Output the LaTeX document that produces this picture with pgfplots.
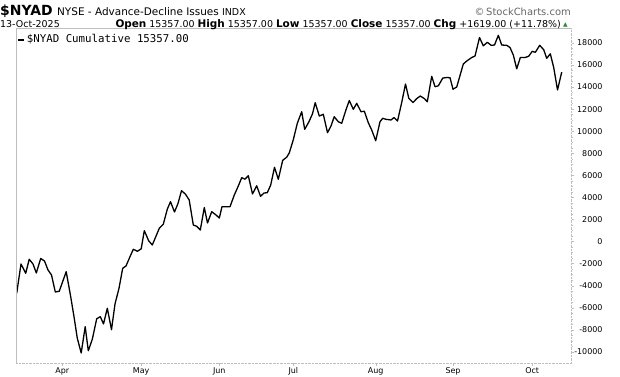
\documentclass[border=0pt]{standalone}
\usepackage{pgfplots}
\pgfplotsset{compat=1.18}
\usepackage{fontspec}
\setmainfont{DejaVu Sans}
\newfontfamily\monof{DejaVu Sans Mono}
\definecolor{framegray}{RGB}{190,190,190}
\definecolor{upgreen}{RGB}{40,140,40}
\begin{document}
\begin{tikzpicture}[x=1bp,y=1bp]
\path[use as bounding box] (0,0) rectangle (620,376);
\begin{axis}[
  at={(15.7bp,12.7bp)}, anchor=south west,
  width=555.8bp, height=334.8bp, scale only axis,
  xmin=15.7, xmax=571.5, ymin=-11030, ymax=19310,
  axis line style={draw=none},
  xtick={62.3,141.2,219.3,293.3,375.7,453,532.2},
  xticklabels={Apr,May,Jun,Jul,Aug,Sep,Oct},
  xtick pos=bottom, ytick pos=right,
  yticklabel pos=right,
  ytick={-10000,-8000,...,18000},
  scaled y ticks=false,
  minor y tick num=3,
  tick align=outside,
  major tick length=2.5bp, minor tick length=1.5bp,
  every tick/.style={framegray},
  x tick label style={font=\fontsize{8}{9}\selectfont, yshift=1.5bp},
  y tick label style={font=\fontsize{8}{9}\selectfont, anchor=east, xshift=32bp},
  /pgf/number format/.cd, set thousands separator={}, assume math mode=true,
  /pgfplots/.cd,
  legend style={at={(0,1)}, anchor=north west, draw=none, fill=none,
    font=\monof\fontsize{10.8}{12}\selectfont, inner sep=1bp, xshift=0bp, yshift=-3bp},
  legend cell align=left,
  legend image code/.code={\draw[line width=2bp] (0bp,0bp) -- (6bp,0bp);},
  clip=false,
]
\addplot[black, line width=1.3bp, line join=round] table {
x y
16.7 -4684
21.0 -2029
25.7 -2872
29.2 -1604
33.0 -2029
36.3 -2845
40.7 -1531
44.5 -1758
48.0 -2573
51.5 -3026
55.3 -4566
59.2 -4503
62.3 -3724
66.2 -2727
70.7 -4992
74.0 -6804
77.3 -8761
81.2 -10093
85.2 -7710
88.3 -9894
92.3 -8852
96.7 -6994
100.3 -6804
103.5 -7465
107.3 -6043
111.5 -7982
115.0 -5653
119.0 -4231
122.7 -2419
126.0 -2211
129.6 -1450
133.3 -698
137.5 -879
141.2 -652
144.3 988
148.7 72
152.3 -308
155.8 450
159.3 1205
163.3 1576
167.3 2935
170.5 3615
174.5 2682
178.0 3452
181.5 4612
185.5 4294
189.2 3769
193.3 1504
196.7 1386
200.3 1051
204.3 3089
207.5 1685
211.7 2709
216.0 2410
219.3 2138
222.0 3162
226.0 3162
230.0 3162
234.3 4222
238.3 5037
241.7 5789
245.0 5653
248.3 5971
252.5 4313
256.7 5055
260.5 4104
264.0 4403
267.3 4430
270.7 5128
274.5 6732
278.3 5644
282.7 7366
286.7 7647
289.3 8045
293.3 9232
297.3 10718
301.7 11769
304.7 10174
308.8 10836
312.5 11579
315.2 12584
319.3 11379
323.3 11533
327.5 9866
331.0 10473
334.2 11316
338.3 10863
341.7 10718
346.0 11950
349.3 12784
353.3 11986
356.7 12530
361.0 11769
364.3 11814
368.3 10772
371.7 10111
375.7 9142
380.0 10863
382.7 11171
386.0 11080
391.0 11017
394.0 11243
397.5 10926
401.7 12602
405.5 14279
408.8 12983
413.0 12602
416.8 12965
420.3 13191
424.2 12965
427.3 12675
431.7 14976
435.0 14034
438.3 14115
442.8 14822
447.0 14867
450.0 14849
453.0 13807
456.7 14007
460.0 15050
463.3 16091
466.7 16362
471.7 16679
475.0 16815
479.5 18491
483.3 17739
487.3 18057
491.2 17785
494.5 17812
498.3 18691
501.7 17812
506.7 17785
510.0 17585
513.3 16906
516.7 15656
520.3 16679
525.0 16679
528.7 16797
532.2 17241
535.3 17151
539.7 17785
543.7 17386
546.7 16607
550.3 17015
553.7 15773
557.5 13738
561.7 15357
};
\addlegendentry{\$NYAD Cumulative 15357.00}
\draw[framegray] (rel axis cs:0,0) -- (rel axis cs:0,1) -- (rel axis cs:1,1);
\draw[framegray, densely dotted] (rel axis cs:1,1) -- (rel axis cs:1,0) -- (rel axis cs:0,0);
\end{axis}
\node[anchor=base west, inner sep=0] at (0,361) {\fontsize{14}{15}\selectfont\textbf{\$NYAD} \fontsize{10.5}{12}\selectfont NYSE - Advance-Decline Issues \fontsize{9.5}{11}\selectfont INDX};
\node[anchor=base east, inner sep=0, text=gray!80!black] at (571,361) {\fontsize{10}{11}\selectfont ©\,StockCharts.com};
\node[anchor=base west, inner sep=0] at (0,349) {\fontsize{9.5}{11}\selectfont 13-Oct-2025};
\node[anchor=base east, inner sep=0] at (561,349) {\fontsize{9.5}{11}\selectfont \textbf{\fontsize{10.5}{11}\selectfont Open} 15357.00 \textbf{\fontsize{10.5}{11}\selectfont High} 15357.00 \textbf{\fontsize{10.5}{11}\selectfont Low} 15357.00 \textbf{\fontsize{10.5}{11}\selectfont Close} 15357.00 \textbf{\fontsize{10.5}{11}\selectfont Chg} +1619.00 (+11.78\%)};
\node[anchor=base west, inner sep=0, text=upgreen] at (563,349.5) {\fontsize{6}{7}\selectfont ▲};
\end{tikzpicture}
\end{document}
